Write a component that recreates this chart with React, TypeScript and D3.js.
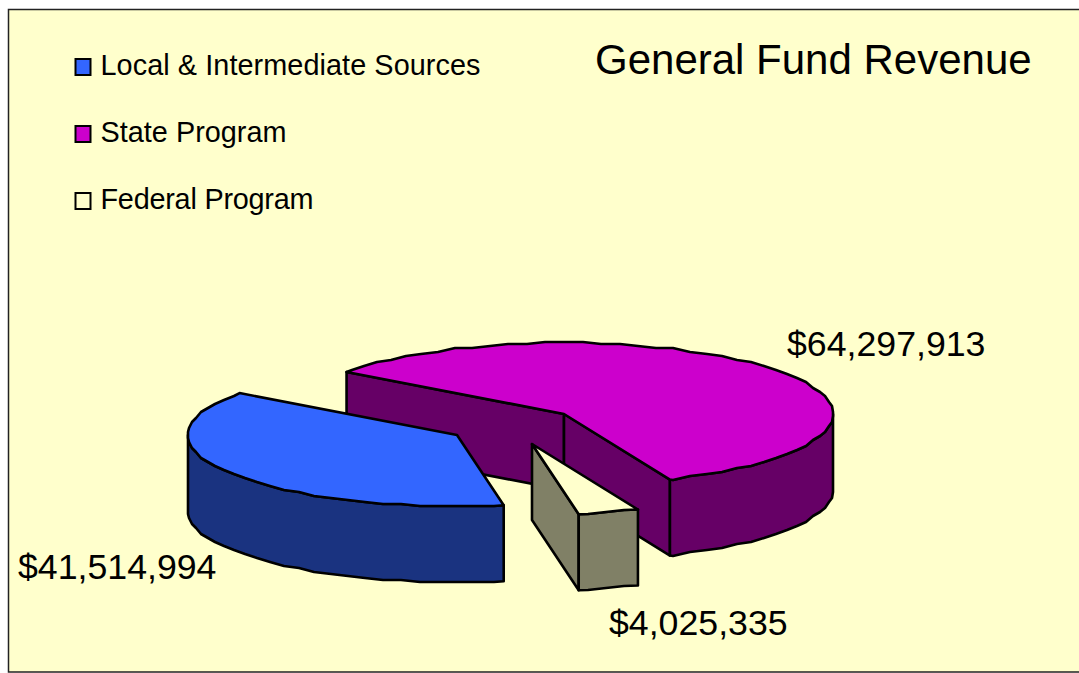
import React from 'react';
import * as d3 from 'd3';

const categories = ['Local & Intermediate Sources', 'State Program', 'Federal Program'];
const values = [41514994, 64297913, 4025335];
const topColors = ['#3366FF', '#CC00CC', '#FFFFCC'];
const sideColors = ['#1A3380', '#660066', '#808066'];
// slices are pulled apart, so each one has its own centre on the page
const centers = [[457, 435], [564, 414], [532, 444]];
const labelPos = [[18, 579], [787, 356], [609, 635]];
const legendY = [59, 126, 193];
const legendTextWidth = [380, 186, 213];
const drawOrder = [1, 2, 0];

const width = 1079;
const height = 673;
const radius = 269;
const tilt = 0.265;
const depth = 76;
const stepDeg = 4;

const toRad = (d: number) => (d * Math.PI) / 180;
const money = d3.format('$,');

const slices = d3
  .pie<number>()
  .sort(null)
  .startAngle(toRad(170))
  .endAngle(toRad(530))(values);

const pathLine = d3.line<number[]>().x((d) => d[0]).y((d) => d[1]);

// angle -> page position on the slice's rim
const rim = (c: number[], deg: number, dy = 0) => [
  c[0] + radius * Math.sin(toRad(deg)),
  c[1] - radius * tilt * Math.cos(toRad(deg)) + dy,
];

// the rim is a coarse polygon, snapped to a grid like the old renderer did
const snap = (p: number[]) => [Math.round(p[0]), Math.round(p[1] / 2) * 2];

function arcPoints(c: number[], a0: number, a1: number, dy = 0) {
  const pts = [rim(c, a0, dy)];
  const first = Math.ceil((a0 + 0.01) / stepDeg) * stepDeg;
  for (let a = first; a < a1; a += stepDeg) pts.push(snap(rim(c, a, dy)));
  pts.push(rim(c, a1, dy));
  return pts;
}

// part of the rim facing the viewer (90..270 degrees, any turn)
function frontRange(a0: number, a1: number) {
  for (const k of [0, 360, 720]) {
    const lo = Math.max(a0, 90 + k);
    const hi = Math.min(a1, 270 + k);
    if (lo < hi) return [lo, hi];
  }
  return null;
}

function radialWall(c: number[], deg: number) {
  const p = rim(c, deg);
  const q = rim(c, deg, depth);
  return [c, p, q, [c[0], c[1] + depth]];
}

const Slice = ({ i }: { i: number }) => {
  const c = centers[i];
  const a0 = (slices[i].startAngle * 180) / Math.PI;
  const a1 = (slices[i].endAngle * 180) / Math.PI;
  const front = frontRange(a0, a1);
  const common = { stroke: '#000', strokeWidth: 2.6, strokeLinejoin: 'round' as const };
  const startVisible = Math.cos(toRad(a0 - 90)) < 0;
  const endVisible = Math.cos(toRad(a1 + 90)) < 0;

  return (
    <g>
      {startVisible && <path d={pathLine(radialWall(c, a0)) + 'Z'} fill={sideColors[i]} {...common} />}
      {endVisible && <path d={pathLine(radialWall(c, a1)) + 'Z'} fill={sideColors[i]} {...common} />}
      {front && (
        <path
          d={
            pathLine([
              ...arcPoints(c, front[0], front[1]),
              ...arcPoints(c, front[0], front[1], depth).reverse(),
            ]) + 'Z'
          }
          fill={sideColors[i]}
          {...common}
        />
      )}
      <path d={pathLine([c, ...arcPoints(c, a0, a1)]) + 'Z'} fill={topColors[i]} {...common} />
    </g>
  );
};

export default function App() {
  return (
    <svg
      width={width}
      height={height}
      style={{ position: 'absolute', left: 0, top: 0, fontFamily: '"Liberation Sans", Arial, sans-serif' }}
    >
      <rect width={width} height={height} fill="#fff" />
      <rect x={8.5} y={9.5} width={1080} height={662.5} fill="#FFFFCC" stroke="#222" strokeWidth={1.5} />

      {categories.map((name, i) => (
        <g key={name}>
          <rect x={75.5} y={legendY[i]} width={15} height={16} fill={topColors[i]} stroke="#000" strokeWidth={2} />
          <text x={100.5} y={legendY[i] + 16} fontSize={28.8} fill="#000" textLength={legendTextWidth[i]}>
            {name}
          </text>
        </g>
      ))}

      <text x={595} y={74} fontSize={42} fill="#000">
        General Fund Revenue
      </text>

      {drawOrder.map((i) => (
        <Slice key={i} i={i} />
      ))}

      {values.map((v, i) => (
        <text key={i} x={labelPos[i][0]} y={labelPos[i][1]} fontSize={35.7} fill="#000">
          {money(v)}
        </text>
      ))}
    </svg>
  );
}
